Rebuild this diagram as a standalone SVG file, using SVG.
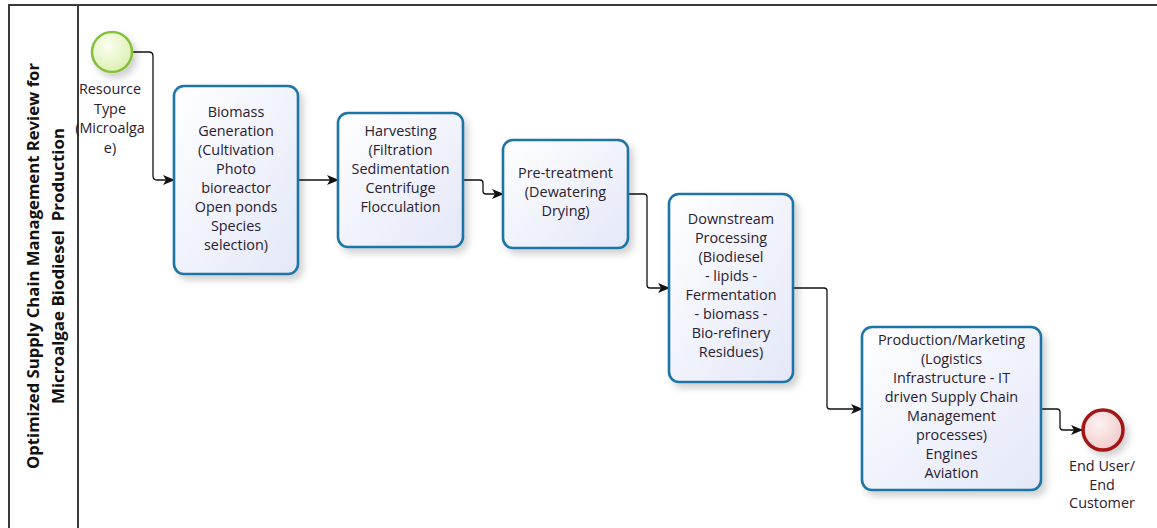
<svg xmlns="http://www.w3.org/2000/svg" width="1157" height="528" viewBox="0 0 1157 528">
<style>
.pool{fill:none;stroke:#3a3a3a;stroke-width:2}
.task{stroke:#1f75a6;stroke-width:2.6;fill:url(#gTask);filter:url(#sh)}
.lbl{font-family:"Open Sans","Noto Sans",sans-serif;font-size:14.4px;fill:#2a2030;text-anchor:middle}
.title{font-family:"Open Sans","Noto Sans",sans-serif;font-size:16.5px;font-weight:bold;fill:#111;text-anchor:middle}
.conn{fill:none;stroke:#111;stroke-width:1.3;marker-end:url(#arr)}
</style>
<defs>
<linearGradient id="gTask" x1="0" y1="0" x2="1" y2="1">
<stop offset="0" stop-color="#ffffff"/>
<stop offset="1" stop-color="#e3e7f8"/>
</linearGradient>
<radialGradient id="gStart" cx="0.4" cy="0.35" r="0.7">
<stop offset="0" stop-color="#fbfef0"/>
<stop offset="1" stop-color="#dcefb0"/>
</radialGradient>
<radialGradient id="gEnd" cx="0.4" cy="0.35" r="0.7">
<stop offset="0" stop-color="#fdf2f2"/>
<stop offset="1" stop-color="#f1c9c9"/>
</radialGradient>
<filter id="sh" x="-20%" y="-20%" width="150%" height="150%">
<feDropShadow dx="4" dy="5" stdDeviation="3.5" flood-color="#000" flood-opacity="0.18"/>
</filter>
<marker id="arr" viewBox="0 0 12 10" refX="11" refY="5" markerWidth="12" markerHeight="10" markerUnits="userSpaceOnUse" orient="auto">
<path d="M0,0 L12,5 L0,10 L3,5 Z" fill="#111"/>
</marker>
</defs>

<g id="pool">
<path class="pool" d="M9,528 V5 H1157"/>
<line class="pool" x1="78" y1="5" x2="78" y2="528"/>
<g transform="translate(33,266) rotate(-90)">
<text class="title" x="0" y="6" textLength="406" lengthAdjust="spacingAndGlyphs">Optimized Supply Chain Management Review for</text>
</g>
<g transform="translate(58,266) rotate(-90)">
<text class="title" x="0" y="6" xml:space="preserve" textLength="276" lengthAdjust="spacingAndGlyphs">Microalgae Biodiesel  Production</text>
</g>
</g>

<g id="connectors">
<path class="conn" d="M133,52 H149 Q153,52 153,56 V176 Q153,180 157,180 H174"/>
<path class="conn" d="M298,180 H338"/>
<path class="conn" d="M463,180 H480 Q483,180 483,183 V191 Q483,194 486,194 H503"/>
<path class="conn" d="M628,194 H644 Q647,194 647,197 V285 Q647,288 650,288 H669"/>
<path class="conn" d="M793,288 H824 Q827,288 827,291 V406 Q827,409 830,409 H862"/>
<path class="conn" d="M1041,409 H1057 Q1060,409 1060,412 V427 Q1060,430 1063,430 H1082"/>
</g>

<g id="start">
<circle cx="112" cy="52" r="20" fill="url(#gStart)" stroke="#86c13c" stroke-width="2.6" filter="url(#sh)"/>
<text class="lbl"><tspan x="110" y="94">Resource</tspan><tspan x="110" y="113.5">Type</tspan><tspan x="110" y="133">(Microalga</tspan><tspan x="110" y="152.5">e)</tspan></text>
</g>

<g id="biomass">
<rect class="task" x="174" y="86" width="124" height="188" rx="10"/>
<text class="lbl"><tspan x="236" y="117">Biomass</tspan><tspan x="236" y="136">Generation</tspan><tspan x="236" y="155">(Cultivation</tspan><tspan x="236" y="174">Photo</tspan><tspan x="236" y="193">bioreactor</tspan><tspan x="236" y="212">Open ponds</tspan><tspan x="236" y="231">Species</tspan><tspan x="236" y="250">selection)</tspan></text>
</g>

<g id="harvesting">
<rect class="task" x="338" y="113" width="125" height="134" rx="10"/>
<text class="lbl"><tspan x="400.5" y="136">Harvesting</tspan><tspan x="400.5" y="155">(Filtration</tspan><tspan x="400.5" y="174">Sedimentation</tspan><tspan x="400.5" y="193">Centrifuge</tspan><tspan x="400.5" y="212">Flocculation</tspan></text>
</g>

<g id="pretreatment">
<rect class="task" x="503" y="140" width="125" height="108" rx="10"/>
<text class="lbl"><tspan x="565.5" y="178">Pre-treatment</tspan><tspan x="565.5" y="197">(Dewatering</tspan><tspan x="565.5" y="216">Drying)</tspan></text>
</g>

<g id="downstream">
<rect class="task" x="669" y="194" width="124" height="188" rx="10"/>
<text class="lbl"><tspan x="731" y="224">Downstream</tspan><tspan x="731" y="243">Processing</tspan><tspan x="731" y="262">(Biodiesel</tspan><tspan x="731" y="281">- lipids -</tspan><tspan x="731" y="300">Fermentation</tspan><tspan x="731" y="319">- biomass -</tspan><tspan x="731" y="338">Bio-refinery</tspan><tspan x="731" y="357">Residues)</tspan></text>
</g>

<g id="production">
<rect class="task" x="862" y="327" width="179" height="163" rx="10"/>
<text class="lbl"><tspan x="951.5" y="345">Production/Marketing</tspan><tspan x="951.5" y="364">(Logistics</tspan><tspan x="951.5" y="383">Infrastructure - IT</tspan><tspan x="951.5" y="402">driven Supply Chain</tspan><tspan x="951.5" y="421">Management</tspan><tspan x="951.5" y="440">processes)</tspan><tspan x="951.5" y="459">Engines</tspan><tspan x="951.5" y="478">Aviation</tspan></text>
</g>

<g id="end">
<circle cx="1103" cy="430" r="20" fill="url(#gEnd)" stroke="#a31515" stroke-width="3.5" filter="url(#sh)"/>
<text class="lbl"><tspan x="1102" y="471">End User/</tspan><tspan x="1102" y="489.5">End</tspan><tspan x="1102" y="508">Customer</tspan></text>
</g>
</svg>
